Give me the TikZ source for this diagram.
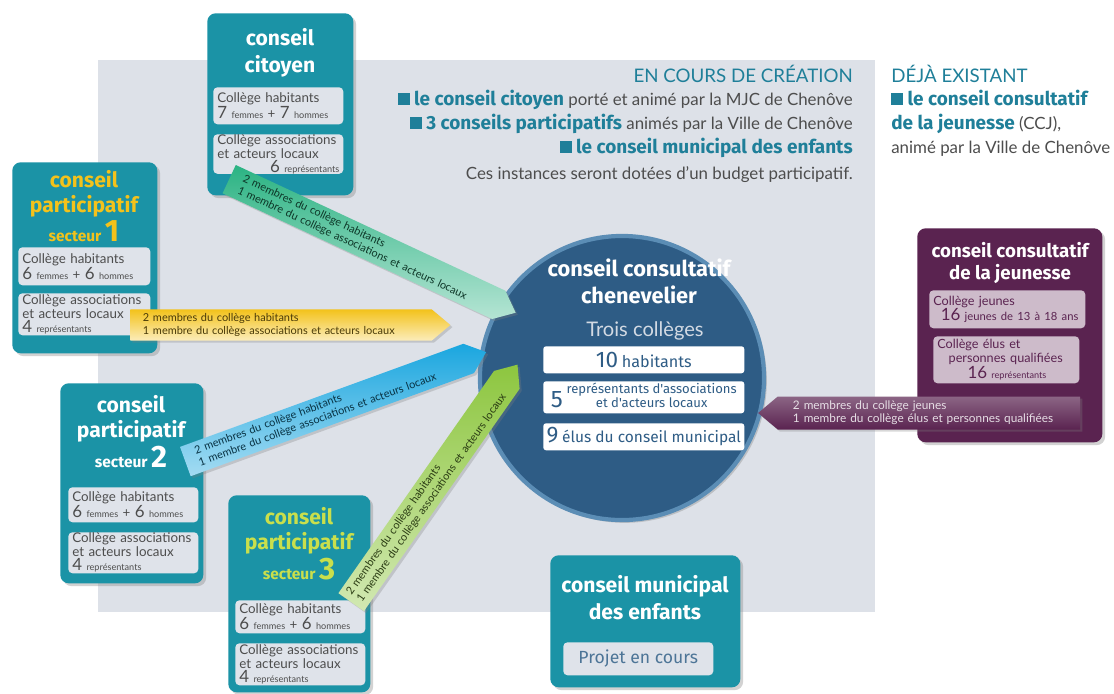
\documentclass[tikz,border=0pt]{standalone}
\usepackage{fontspec}
\setmainfont{Lato}
\newfontfamily\titlefont{Fira Sans}
\usetikzlibrary{shapes.symbols,shadows,positioning}

% colours of the leaflet
\definecolor{fond}{HTML}{DDE1E8}
\definecolor{bleucanard}{HTML}{1B93A6}
\definecolor{encart}{HTML}{DFE3EA}
\definecolor{texte}{HTML}{4D4D4D}
\definecolor{titrebleu}{HTML}{1F7F99}
\definecolor{jaune}{HTML}{F3C21B}
\definecolor{vertclair}{HTML}{C9DF4C}
\definecolor{rond}{HTML}{2E5C85}
\definecolor{bord}{HTML}{5B8DB5}
\definecolor{gristexte}{HTML}{D3DAE3}
\definecolor{violet}{HTML}{5A2350}
\definecolor{mauve}{HTML}{CDBBCA}
\definecolor{vert}{HTML}{2BB383}
\definecolor{bleuciel}{HTML}{1AA6DF}
\definecolor{anis}{HTML}{8DC63F}

% small helpers for the texts
\newcommand{\carre}{\textcolor{titrebleu}{\rule{8.5pt}{8.5pt}}}
\newcommand{\gras}[1]{{\titlefont\bfseries\fontsize{13.5}{15}\selectfont\color{titrebleu}#1}}
\newcommand{\grand}[1]{{\fontsize{12}{12}\selectfont #1}}
\newcommand{\petit}[1]{{\fontsize{6.5}{6.5}\selectfont #1}}

\tikzset{
  % coloured blocks of each council
  bloc/.style={rectangle, rounded corners=6pt, fill=bleucanard, anchor=north west, inner sep=0pt,
    drop shadow={shadow xshift=2pt, shadow yshift=-2pt, opacity=.35}},
  titre/.style={font=\titlefont\bfseries\fontsize{15}{18}\selectfont, align=center, inner sep=0pt, anchor=north, text=white},
  encadre/.style={rectangle, rounded corners=3pt, fill=encart, anchor=north west, inner xsep=0.1cm, inner ysep=0pt,
    align=left, text=texte, font=\fontsize{9.5}{10}\selectfont},
  college/.style={rectangle, rounded corners=2pt, fill=white, anchor=north west, minimum width=5.025cm, inner sep=0pt,
    text=rond, font=\titlefont, align=center},
  entete/.style={inner sep=0pt, text=texte, font=\fontsize{12}{14}\selectfont},
  % pencil shaped arrows
  crayon/.style={signal, signal pointer angle=80, minimum height=0.78cm, inner xsep=4pt, inner ysep=1pt,
    font=\fontsize{7.8}{9}\selectfont, align=left, drop shadow={shadow xshift=1.5pt, shadow yshift=-1.5pt, opacity=.3}}
}

\begin{document}
\begin{tikzpicture}[x=0.025cm, y=-0.025cm]
% page and grey panel
\fill[white] (0,0) rectangle (1114,693);
\useasboundingbox (0,0) rectangle (1114,693);
\fill[fond] (98,60) rectangle (875,612);

% header, councils being created
\node[entete, anchor=base east, text=titrebleu, font=\fontsize{13.3}{15}\selectfont] (encours) at (853,82) {EN COURS DE CRÉATION};
\node[entete, anchor=base east] (ligne1) at (853,105) {\carre\ \gras{le conseil citoyen}\ porté et animé par la MJC de Chenôve};
\node[entete, anchor=base east] (ligne2) at (853,129) {\carre\ \gras{3 conseils participatifs}\ animés par la Ville de Chenôve};
\node[entete, anchor=base east] (ligne3) at (853,153) {\carre\ \gras{le conseil municipal des enfants}};
\node[entete, anchor=base east] (ligne4) at (853,179) {Ces instances seront dotées d'un budget participatif.};
% header, existing council
\node[entete, anchor=base west, text=titrebleu, font=\fontsize{13.3}{15}\selectfont] (existant) at (891,82) {DÉJÀ EXISTANT};
\node[entete, anchor=base west] (ccj1) at (891,105) {\carre\ \gras{le conseil consultatif}};
\node[entete, anchor=base west] (ccj2) at (891,129) {\gras{de la jeunesse} (CCJ),};
\node[entete, anchor=base west] (ccj3) at (891,153) {animé par la Ville de Chenôve};

% conseil citoyen
\node[bloc, minimum width=3.65cm, minimum height=4.55cm] (citoyen) at (207,13) {};
\node[titre, font=\titlefont\bfseries\fontsize{15}{19}\selectfont] (citoyen-titre) at (280,28) {conseil\\citoyen};
\node[encadre, text width=3.05cm, minimum height=0.925cm] (citoyen-a) at (213,87) {Collège habitants\\\grand{7} \petit{femmes} + \grand{7} \petit{hommes}};
\node[encadre, text width=3.05cm, minimum height=0.975cm] (citoyen-b) at (213,134) {Collège associations\\et acteurs locaux\\\hspace*{\fill}\grand{6} \petit{représentants}};

% conseil participatif secteur 1
\node[bloc, minimum width=3.625cm, minimum height=4.775cm] (secteur1) at (12,162) {};
\node[titre, text=jaune] (secteur1-titre) at (84,170) {conseil\\participatif\\[1pt]{\fontsize{11}{11}\selectfont secteur}\,{\fontsize{22}{18}\selectfont 1}};
\node[encadre, text width=3.1cm, minimum height=0.95cm] (secteur1-a) at (18,247) {Collège habitants\\\grand{6} \petit{femmes} + \grand{6} \petit{hommes}};
\node[encadre, text width=3.1cm, minimum height=1.05cm] (secteur1-b) at (18,293) {Collège associations\\et acteurs locaux\\\grand{4} \petit{représentants}};

% conseil participatif secteur 2
\node[bloc, minimum width=3.575cm, minimum height=5cm] (secteur2) at (60,383) {};
\node[titre] (secteur2-titre) at (131,395) {conseil\\participatif\\[2pt]{\fontsize{11}{11}\selectfont secteur}\,{\fontsize{22}{18}\selectfont 2}};
\node[encadre, text width=3.05cm, minimum height=0.875cm] (secteur2-a) at (68,487) {Collège habitants\\\grand{6} \petit{femmes} + \grand{6} \petit{hommes}};
\node[encadre, text width=3.05cm, minimum height=1.025cm] (secteur2-b) at (68,532) {Collège associations\\et acteurs locaux\\\grand{4} \petit{représentants}};

% conseil participatif secteur 3
\node[bloc, minimum width=3.55cm, minimum height=4.925cm] (secteur3) at (228,495) {};
\node[titre, text=vertclair] (secteur3-titre) at (299,507) {conseil\\participatif\\[2pt]{\fontsize{11}{11}\selectfont secteur}\,{\fontsize{22}{18}\selectfont 3}};
\node[encadre, text width=3.05cm, minimum height=0.825cm] (secteur3-a) at (235,600) {Collège habitants\\\grand{6} \petit{femmes} + \grand{6} \petit{hommes}};
\node[encadre, text width=3.05cm, minimum height=1.05cm] (secteur3-b) at (235,643) {Collège associations\\et acteurs locaux\\\grand{4} \petit{représentants}};

% conseil municipal des enfants
\node[bloc, minimum width=4.75cm, minimum height=3.3cm] (enfants) at (550,555) {};
\node[titre, font=\titlefont\bfseries\fontsize{15}{19}\selectfont] (enfants-titre) at (645,575) {conseil municipal\\des enfants};
\node[encadre, minimum width=3.75cm, minimum height=0.825cm, align=center, text=rond!85!white, font=\titlefont\fontsize{12.5}{14}\selectfont] (enfants-a) at (563,642) {Projet en cours};

% conseil consultatif de la jeunesse
\node[bloc, fill=violet, minimum width=4.625cm, minimum height=5.35cm] (jeunesse) at (917,228) {};
\node[titre, font=\titlefont\bfseries\fontsize{13.3}{15.5}\selectfont] (jeunesse-titre) at (1010,242) {conseil consultatif\\de la jeunesse};
\node[encadre, fill=mauve, text=violet, text width=3.7cm, minimum height=0.95cm, font=\fontsize{9}{10}\selectfont] (jeunesse-a) at (929,290) {Collège jeunes\\\hspace*{0.6em}\grand{16} {\fontsize{8}{8}\selectfont jeunes de 13 à 18 ans}};
\node[encadre, fill=mauve, text=violet, text width=3.45cm, minimum height=1.175cm, font=\fontsize{9}{10}\selectfont] (jeunesse-b) at (933,336) {Collège élus et\\\hspace*{0.9em}personnes qualifiées\\\hspace*{2.4em}\grand{16} \petit{représentants}};

% conseil consultatif chenevelier
\node[circle, fill=rond, draw=bord, line width=3pt, minimum size=7.1cm,
  drop shadow={shadow xshift=2pt, shadow yshift=-2pt, opacity=.35}] (chenevelier) at (622,378) {};
\node[titre, font=\titlefont\bfseries\fontsize{15.5}{19}\selectfont] (chenevelier-titre) at (639,259) {conseil consultatif\\chenevelier};
\node[inner sep=0pt, anchor=base, text=gristexte, font=\fontsize{14.3}{15}\selectfont] (trois) at (645,336) {Trois collèges};
\node[college, minimum height=0.675cm] (habitants) at (543,346) {{\fontsize{16}{16}\selectfont 10} {\fontsize{11.5}{12}\selectfont habitants}};
\node[college, minimum height=0.8cm] (associations) at (543,381) {{\fontsize{17}{17}\selectfont 5}~{\fontsize{9.3}{9.8}\selectfont\begin{tabular}[b]{@{}c@{}}représentants d'associations\\et d'acteurs locaux\end{tabular}}};
\node[college, minimum height=0.675cm] (elus) at (543,423) {{\fontsize{16}{16}\selectfont 9} {\fontsize{11}{12}\selectfont élus du conseil municipal}};

% pencils towards the circle
\node[crayon, top color=jaune, bottom color=jaune!30!white, text=black!70!jaune, minimum width=8cm, text width=6.9cm] (crayon1) at (281,325)
  {2 membres du collège habitants\\1 membre du collège associations et acteurs locaux};
\node[crayon, top color=vert, bottom color=vert!35!white, text=black!70!vert, minimum width=7.9cm, text width=6.8cm, rotate=-25] (crayon0) at (364,242)
  {2 membres du collège habitants\\1 membre du collège associations et acteurs locaux};
\node[crayon, top color=bleuciel, bottom color=bleuciel!40!white, text=black!70!bleuciel, minimum width=8cm, text width=6.9cm, rotate=20] (crayon2) at (327,410)
  {2 membres du collège habitants\\1 membre du collège associations et acteurs locaux};
\node[crayon, top color=anis, bottom color=anis!40!white, text=black!70!anis, minimum width=7.2cm, text width=6.5cm, rotate=55] (crayon3) at (429,491)
  {2 membres du collège habitants\\1 membre du collège associations et acteurs locaux};
\node[crayon, signal to=west, top color=violet!70!white, bottom color=violet, text=white!85!violet, minimum width=8.05cm, text width=6.8cm, minimum height=0.825cm,
  font=\fontsize{8.4}{9.5}\selectfont] (crayon4) at (929,413)
  {2 membres du collège jeunes\\1 membre du collège élus et personnes qualifiées};
\end{tikzpicture}
\end{document}
